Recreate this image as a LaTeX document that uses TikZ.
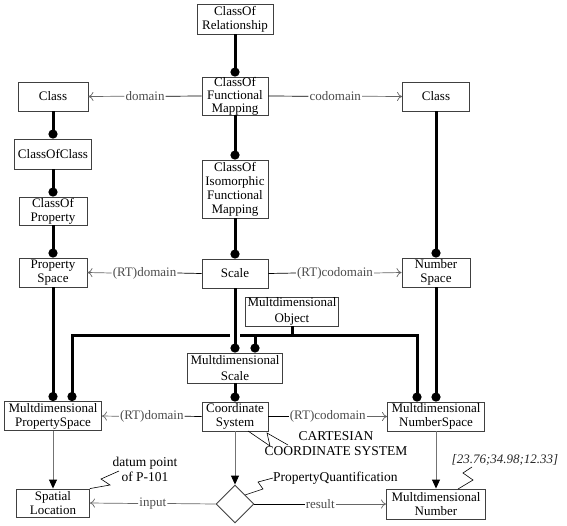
\documentclass[tikz,border=0pt]{standalone}
\usepackage{fontspec}
\setmainfont{Liberation Serif}
\usetikzlibrary{arrows.meta,shapes.geometric,calc}
\begin{document}
\begin{tikzpicture}[x=1pt,y=-1pt,
 box/.style={draw=black!75,line width=0.9pt,fill=white,inner sep=0pt,align=center,font=\fontsize{13}{14}\selectfont},
 spec/.style={line width=3pt,-{Circle[length=9pt,width=9pt]}},
 barline/.style={line width=3pt},
 lbl/.style={fill=white,inner sep=1pt,text=black!70,font=\fontsize{13}{14}\selectfont},
 relA/.style={line width=0.7pt,black},
 relB/.style={line width=0.7pt,black!60,-{To[length=5pt,width=9pt]}},
 flow/.style={line width=0.9pt,black!55,-{Triangle[length=9pt,width=8pt,color=black]}},
 note/.style={line width=0.6pt,black},
 ntxt/.style={font=\fontsize{13.5}{15}\selectfont,align=center,inner sep=0pt}]
\path[use as bounding box] (0,0) rectangle (567,525);

% boxes
\node[box,minimum width=76pt,minimum height=30pt] (COR) at (235,19) {ClassOf\\Relationship};
\node[box,minimum width=66pt,minimum height=38pt,font=\fontsize{13}{13}\selectfont] (CFM) at (235,96) {ClassOf\\Functional\\Mapping};
\node[box,minimum width=70pt,minimum height=29pt] (ClassL) at (53,96.5) {Class};
\node[box,minimum width=67pt,minimum height=29pt] (ClassR) at (436,96.5) {Class};
\node[box,minimum width=77pt,minimum height=30pt] (COC) at (53,154) {ClassOfClass};
\node[box,minimum width=68pt,minimum height=28pt] (COP) at (53,211) {ClassOf\\Property};
\node[box,minimum width=66pt,minimum height=58pt] (COIFM) at (235,189) {ClassOf\\Isomorphic\\Functional\\Mapping};
\node[box,minimum width=68pt,minimum height=29pt] (PS) at (53,272.5) {Property\\Space};
\node[box,minimum width=66pt,minimum height=29pt] (Scale) at (235,273.5) {Scale};
\node[box,minimum width=68pt,minimum height=29pt] (NS) at (436,272.5) {Number\\Space};
\node[box,minimum width=93pt,minimum height=29pt,font=\fontsize{13}{16}\selectfont] (MdObj) at (292,311.5) {Multdimensional\\Object};
\node[box,minimum width=95pt,minimum height=30pt,font=\fontsize{13}{16}\selectfont] (MdScale) at (235,368) {Multdimensional\\Scale};
\node[box,minimum width=97pt,minimum height=29pt] (MdPS) at (53,416) {Multdimensional\\PropertySpace};
\node[box,minimum width=66pt,minimum height=29pt] (CS) at (235,416.5) {Coordinate\\System};
\node[box,minimum width=97pt,minimum height=29pt] (MdNS) at (436,416.5) {Multdimensional\\NumberSpace};
\node[box,minimum width=73pt,minimum height=28pt] (SL) at (53,503) {Spatial\\Location};
\node[diamond,draw=black!75,line width=0.9pt,fill=white,minimum width=38pt,minimum height=38pt,inner sep=0pt] (PQ) at (235,504) {};
\node[box,minimum width=99pt,minimum height=30pt] (MdNum) at (436,504) {Multdimensional\\Number};

% specialization lines
\draw[spec] (COR.south) -- (CFM.north);
\draw[spec] (CFM.south) -- (COIFM.north);
\draw[spec] (COIFM.south) -- (Scale.north);
\draw[spec] (ClassL.south) -- (COC.north);
\draw[spec] (COC.south) -- (COP.north);
\draw[spec] (COP.south) -- (PS.north);
\draw[spec] (ClassR.south) -- (NS.north);
\draw[spec] (PS.south) -- (MdPS.north);
\draw[spec] (NS.south) -- (MdNS.north);
\draw[spec] (Scale.south) -- (MdScale.north);
\draw[spec] (MdScale.south) -- (CS.north);

\coordinate (bL) at (72,335);
\coordinate (bR) at (417,335);
\coordinate (gL) at (230,335);
\coordinate (gR) at (240,335);
\coordinate (ms2) at ($(MdScale.north)+(20,0)$);
\draw[spec] (gL) -- (bL) -- (bL |- MdPS.north);
\draw[spec] (gR) -- (bR) -- (bR |- MdNS.north);
\draw[barline] (MdObj.south) -- (MdObj.south |- bL);
\draw[spec] (ms2 |- bL) -- (ms2);

% relations with labels
\path (CFM.west) -- node[lbl] (l1) {domain} (ClassL.east);
\draw[relA] (CFM.west) -- (l1.east);
\draw[relB] (l1.west) -- (ClassL.east);
\path (CFM.east) -- node[lbl] (l2) {codomain} (ClassR.west);
\draw[relA] (CFM.east) -- (l2.west);
\draw[relB] (l2.east) -- (ClassR.west);
\path (Scale.west) -- node[lbl] (l3) {(RT)domain} (PS.east);
\draw[relA] (Scale.west) -- (l3.east);
\draw[relB] (l3.west) -- (PS.east);
\path (Scale.east) -- node[lbl] (l4) {(RT)codomain} (NS.west);
\draw[relA] (Scale.east) -- (l4.west);
\draw[relB] (l4.east) -- (NS.west);
\path (CS.west) -- node[lbl] (l5) {(RT)domain} (MdPS.east);
\draw[relA] (CS.west) -- (l5.east);
\draw[relB] (l5.west) -- (MdPS.east);
\path (CS.east) -- node[lbl] (l6) {(RT)codomain} (MdNS.west);
\draw[relA] (CS.east) -- (l6.west);
\draw[relB] (l6.east) -- (MdNS.west);
\path (PQ.west) -- node[lbl] (l7) {input} (SL.east);
\draw[relA,black!60] (PQ.west) -- (l7.east);
\draw[relB] (l7.west) -- (SL.east);
\path (PQ.east) -- node[lbl] (l8) {result} (MdNum.west);
\draw[relA] (PQ.east) -- (l8.west);
\draw[relB] (l8.east) -- (MdNum.west);

% flows
\draw[flow] (MdPS.south) -- (SL.north);
\draw[flow] (CS.south) -- (PQ.north);
\draw[flow] (MdNS.south) -- (MdNum.north);

% notes
\node[ntxt] (dp) at (145,469) {datum point\\of P-101};
\draw[note] (SL.north east) -- (110,485) -- (101,479) -- (119,471);
\node[ntxt,anchor=west] (pqt) at (273,478) {PropertyQuantification};
\draw[note] (245,495) -- (263,489) -- (258,482) -- (pqt.west);
\node[ntxt] (cart) at (336,443.5) {CARTESIAN\\COORDINATE SYSTEM};
\draw[note] (248,431) -- (270,446) -- (267,433) -- (288,445);
\node[ntxt,font=\fontsize{13}{15}\selectfont\itshape,text=black!85] (val) at (505,460) {[23.76;34.98;12.33]};
\draw[note] (458,489) -- (473,480) -- (463,473) -- (472,467);
\end{tikzpicture}
\end{document}
